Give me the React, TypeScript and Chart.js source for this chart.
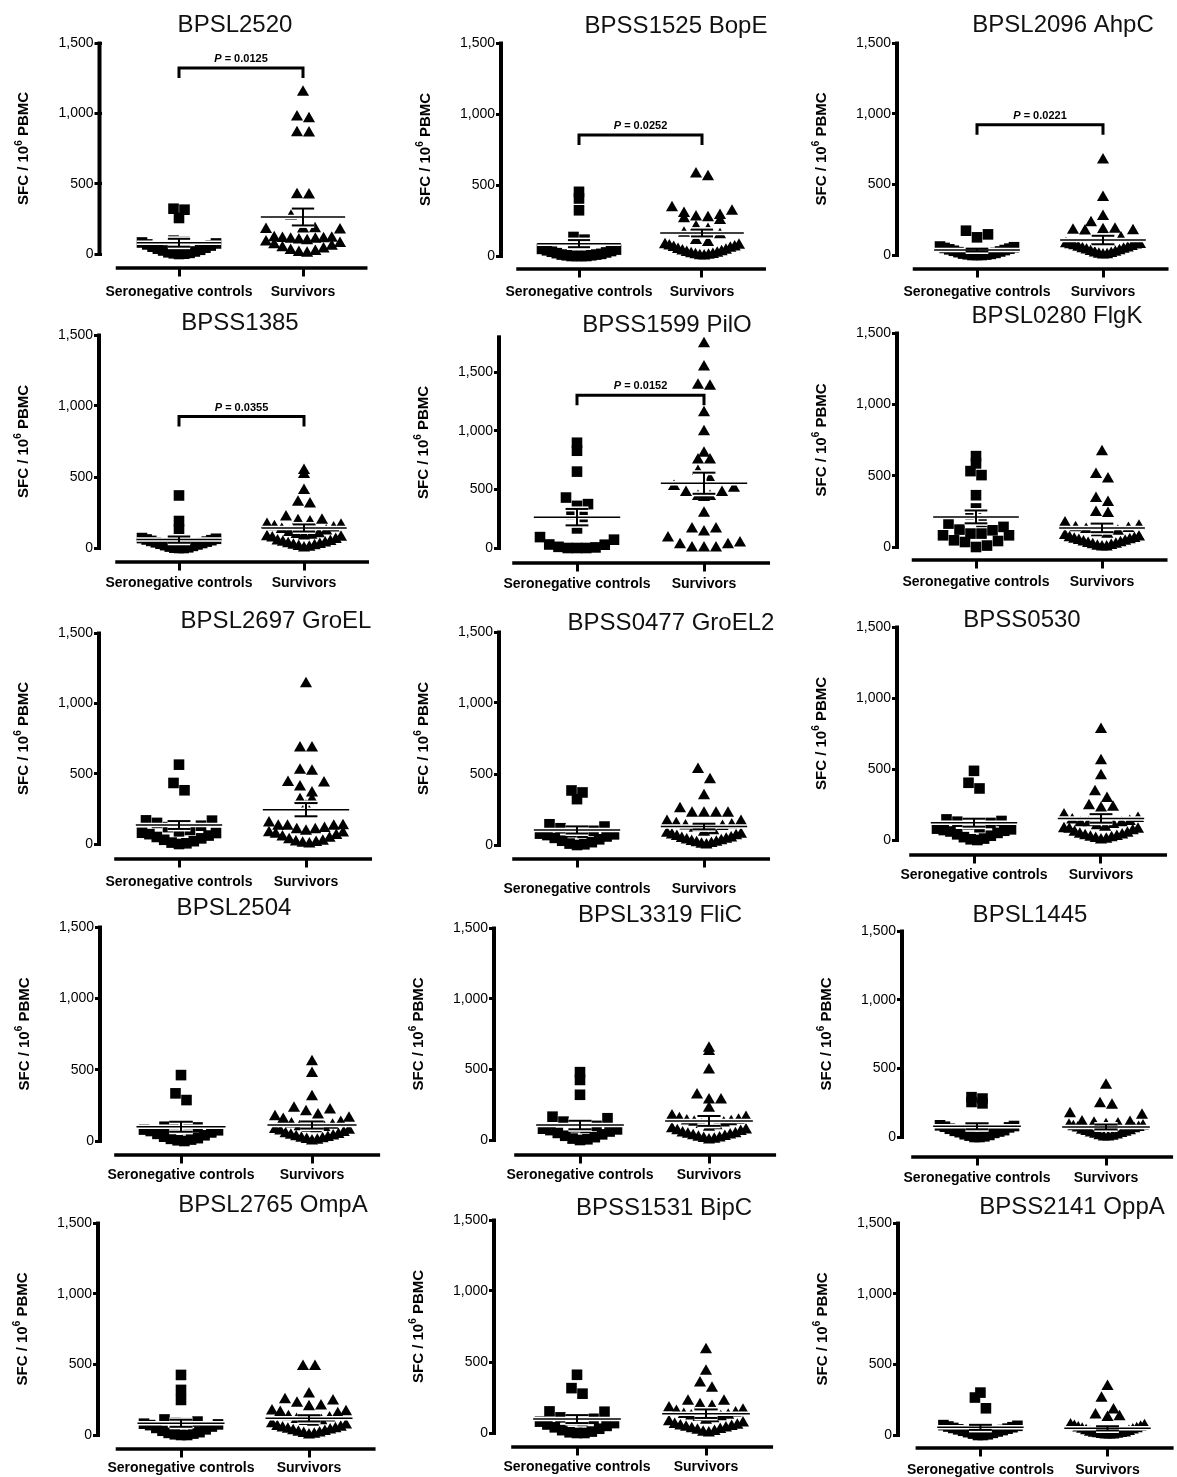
import React, { useEffect, useRef } from "react";
import { Chart, registerables } from "chart.js";

Chart.register(...registerables);

const FONT = "'Liberation Sans', Arial, Helvetica, sans-serif";

// ---------------- data ----------------
const categories = ["Seronegative controls", "Survivors"];
const yTickValues = [0, 500, 1000, 1500];
const antigenTitles = [
  "BPSL2520", "BPSS1525 BopE", "BPSL2096 AhpC",
  "BPSS1385", "BPSS1599 PilO", "BPSL0280 FlgK",
  "BPSL2697 GroEL", "BPSS0477 GroEL2", "BPSS0530",
  "BPSL2504", "BPSL3319 FliC", "BPSL1445",
  "BPSL2765 OmpA", "BPSS1531 BipC", "BPSS2141 OppA",
];
const yAxisMax = [1500, 1500, 1500, 1500, 1800, 1500, 1500, 1500, 1500, 1500, 1500, 1500, 1500, 1500, 1500];

const bpsl2520Controls = [0, 2, 5, 8, 12, 18, 25, 30, 38, 45, 52, 60, 68, 75, 82, 88, 95, 256, 315, 322];
const bpsl2520Survivors = [5, 10, 18, 25, 35, 45, 55, 65, 75, 85, 95, 105, 100, 105, 108, 110, 112, 115, 170, 175, 178, 180, 268, 420, 422, 860, 862, 962, 974, 1149];
const bpss1525Controls = [0, 0, 0, 0, 5, 5, 10, 10, 15, 20, 25, 30, 35, 40, 45, 50, 115, 134, 322, 405, 452];
const bpss1525Survivors = [0, 2, 5, 8, 10, 15, 20, 25, 30, 35, 40, 45, 55, 60, 64, 70, 75, 80, 95, 110, 150, 160, 186, 205, 250, 262, 270, 275, 285, 299, 316, 339, 558, 577];
const bpsl2096Controls = [0, 0, 0, 3, 5, 8, 10, 15, 20, 25, 30, 35, 40, 45, 50, 55, 60, 125, 146, 172];
const bpsl2096Survivors = [0, 2, 5, 10, 15, 20, 25, 30, 35, 40, 45, 50, 55, 60, 65, 70, 72, 75, 80, 90, 100, 120, 170, 172, 175, 178, 182, 229, 272, 406, 673];
const bpss1385Controls = [0, 0, 2, 5, 10, 15, 20, 25, 30, 35, 40, 45, 50, 55, 60, 65, 70, 129, 190, 370];
const bpss1385Survivors = [0, 5, 10, 15, 20, 25, 30, 35, 40, 45, 50, 60, 70, 75, 80, 85, 90, 95, 100, 110, 120, 130, 140, 150, 160, 166, 183, 192, 195, 218, 310, 323, 405, 518, 546];
const bpss1599Controls = [0, 0, 0, 5, 10, 28, 30, 71, 93, 167, 265, 290, 359, 374, 430, 651, 829, 897];
const bpss1599Survivors = [0, 0, 0, 28, 28, 42, 85, 136, 161, 161, 297, 430, 439, 439, 473, 473, 509, 524, 586, 651, 750, 750, 807, 991, 1152, 1378, 1387, 1543, 1741];
const bpsl0280Controls = [0, 10, 35, 42, 47, 82, 82, 94, 94, 117, 122, 141, 164, 176, 230, 270, 363, 504, 532, 586, 637];
const bpsl0280Survivors = [0, 0, 5, 10, 15, 20, 25, 30, 35, 40, 45, 50, 55, 60, 65, 70, 80, 90, 100, 110, 122, 129, 135, 145, 169, 234, 241, 312, 340, 476, 508, 668];
const bpsl2697Controls = [0, 5, 10, 20, 30, 40, 50, 60, 70, 78, 80, 90, 100, 120, 130, 150, 166, 168, 382, 434, 564];
const bpsl2697Survivors = [0, 5, 10, 15, 20, 30, 40, 50, 60, 70, 78, 80, 90, 102, 102, 110, 126, 126, 126, 130, 150, 268, 315, 315, 363, 405, 434, 438, 517, 524, 682, 682, 1140];
const bpss0477Controls = [0, 5, 10, 20, 30, 40, 50, 60, 70, 75, 80, 85, 90, 100, 118, 130, 146, 323, 370, 384];
const bpss0477Survivors = [0, 5, 10, 15, 20, 25, 30, 35, 40, 45, 50, 60, 65, 70, 75, 83, 90, 100, 118, 130, 134, 140, 150, 165, 165, 224, 224, 224, 224, 255, 347, 460, 531];
const bpss0530Controls = [0, 5, 10, 20, 30, 40, 50, 60, 65, 70, 75, 80, 90, 110, 120, 129, 134, 145, 363, 403, 487];
const bpss0530Survivors = [0, 5, 10, 15, 20, 25, 30, 35, 40, 47, 55, 65, 75, 75, 80, 90, 100, 110, 122, 122, 122, 130, 140, 152, 176, 223, 230, 241, 293, 340, 452, 558, 778];
const bpsl2504Controls = [0, 5, 10, 15, 20, 30, 40, 50, 60, 70, 75, 80, 85, 90, 95, 100, 287, 334, 462];
const bpsl2504Survivors = [0, 5, 10, 15, 20, 25, 30, 35, 40, 45, 50, 60, 70, 75, 80, 85, 90, 95, 100, 110, 120, 130, 150, 160, 170, 182, 205, 217, 229, 310, 474, 555];
const bpsl3319Controls = [0, 5, 10, 20, 30, 40, 50, 60, 70, 75, 80, 85, 90, 100, 130, 154, 165, 320, 425, 480];
const bpsl3319Survivors = [0, 5, 10, 15, 20, 25, 30, 35, 40, 45, 50, 60, 65, 70, 80, 90, 100, 110, 120, 125, 130, 135, 140, 150, 160, 170, 224, 283, 283, 319, 496, 626, 650];
const bpsl1445Controls = [0, 0, 5, 10, 15, 20, 30, 35, 40, 45, 50, 60, 70, 75, 80, 85, 245, 255, 280, 290];
const bpsl1445Survivors = [0, 0, 5, 10, 15, 20, 25, 30, 35, 40, 45, 50, 60, 65, 70, 75, 80, 85, 90, 95, 100, 105, 110, 158, 170, 231, 243, 377];
const bpsl2765Controls = [0, 0, 5, 10, 15, 20, 30, 40, 50, 60, 70, 75, 80, 85, 90, 95, 110, 248, 319, 425];
const bpsl2765Survivors = [0, 5, 10, 15, 20, 25, 30, 35, 40, 45, 50, 55, 60, 70, 80, 90, 95, 100, 110, 120, 130, 150, 160, 165, 170, 200, 205, 225, 240, 250, 290, 484, 484];
const bpss1531Controls = [0, 0, 5, 10, 20, 30, 40, 50, 60, 70, 80, 85, 90, 100, 110, 150, 152, 277, 316, 410];
const bpss1531Survivors = [0, 5, 10, 20, 25, 30, 35, 40, 45, 50, 55, 60, 70, 80, 90, 100, 110, 115, 120, 125, 130, 140, 152, 160, 176, 187, 199, 223, 223, 316, 352, 434, 586];
const bpss2141Controls = [0, 0, 5, 10, 15, 20, 25, 30, 35, 40, 45, 50, 55, 60, 65, 70, 189, 265, 300];
const bpss2141Survivors = [0, 0, 0, 3, 5, 8, 10, 12, 15, 20, 25, 30, 35, 40, 45, 50, 55, 60, 65, 70, 123, 130, 142, 177, 260, 343];

const controlsSeries = [
  bpsl2520Controls, bpss1525Controls, bpsl2096Controls,
  bpss1385Controls, bpss1599Controls, bpsl0280Controls,
  bpsl2697Controls, bpss0477Controls, bpss0530Controls,
  bpsl2504Controls, bpsl3319Controls, bpsl1445Controls,
  bpsl2765Controls, bpss1531Controls, bpss2141Controls,
];
const survivorsSeries = [
  bpsl2520Survivors, bpss1525Survivors, bpsl2096Survivors,
  bpss1385Survivors, bpss1599Survivors, bpsl0280Survivors,
  bpsl2697Survivors, bpss0477Survivors, bpss0530Survivors,
  bpsl2504Survivors, bpsl3319Survivors, bpsl1445Survivors,
  bpsl2765Survivors, bpss1531Survivors, bpss2141Survivors,
];

// mean and SEM: [controls, survivors]
const groupMeans = [
  [80, 263], [87, 162], [35, 106],
  [59, 141], [263, 552], [211, 134],
  [135, 244], [106, 130], [122, 152],
  [100, 112], [106, 135], [78, 73],
  [83, 118], [98, 136], [54, 47],
];
const groupSems = [
  [28, 60], [25, 24], [10, 30],
  [22, 25], [70, 90], [45, 30],
  [28, 47], [25, 20], [28, 30],
  [35, 25], [30, 35], [22, 18],
  [25, 22], [28, 30], [18, 15],
];

const pValues = ["0.0125", "0.0252", "0.0221", "0.0355", "0.0152", null, null, null, null, null, null, null, null, null, null];
const bracketLevels = [1322, 852, 921, 926, 1302, null, null, null, null, null, null, null, null, null, null];

// ---------------- layout (page pixels) ----------------
const COL_LEFT = [0, 392, 786];
const COL_WIDTH = [392, 394, 391];
const PANEL_GEOMETRY = [
  { axisX: 99.5, y0: 254, y1500: 43, xAxisY: 268, t1: 179, t2: 303, titleX: 235, titleY: 25, labelY: 292 },
  { axisX: 501, y0: 256, y1500: 43, xAxisY: 269, t1: 579, t2: 702, titleX: 676, titleY: 26, labelY: 292 },
  { axisX: 897, y0: 255, y1500: 43, xAxisY: 269, t1: 977, t2: 1103, titleX: 1063, titleY: 25, labelY: 292 },
  { axisX: 99, y0: 548, y1500: 335, xAxisY: 562, t1: 179, t2: 304, titleX: 240, titleY: 323, labelY: 583 },
  { axisX: 499, y0: 548, y1500: 372, xAxisY: 563, t1: 577, t2: 704, titleX: 667, titleY: 325, labelY: 584 },
  { axisX: 897, y0: 547, y1500: 333, xAxisY: 560, t1: 976, t2: 1102, titleX: 1057, titleY: 316, labelY: 582 },
  { axisX: 99, y0: 844, y1500: 633, xAxisY: 859, t1: 179, t2: 306, titleX: 276, titleY: 621, labelY: 882 },
  { axisX: 499, y0: 845, y1500: 632, xAxisY: 859, t1: 577, t2: 704, titleX: 671, titleY: 623, labelY: 889 },
  { axisX: 897, y0: 840, y1500: 627, xAxisY: 855, t1: 974, t2: 1101, titleX: 1022, titleY: 620, labelY: 875 },
  { axisX: 100, y0: 1141, y1500: 927, xAxisY: 1155, t1: 181, t2: 312, titleX: 234, titleY: 908, labelY: 1175 },
  { axisX: 494, y0: 1140, y1500: 928, xAxisY: 1155, t1: 580, t2: 709, titleX: 660, titleY: 915, labelY: 1175 },
  { axisX: 902, y0: 1137, y1500: 931, xAxisY: 1157, t1: 977, t2: 1106, titleX: 1030, titleY: 915, labelY: 1178 },
  { axisX: 98, y0: 1435, y1500: 1223, xAxisY: 1449, t1: 181, t2: 309, titleX: 273, titleY: 1205, labelY: 1468 },
  { axisX: 494, y0: 1433, y1500: 1220, xAxisY: 1447, t1: 577, t2: 706, titleX: 664, titleY: 1208, labelY: 1467 },
  { axisX: 898, y0: 1435, y1500: 1223, xAxisY: 1448, t1: 981, t2: 1109, titleX: 1072, titleY: 1207, labelY: 1470 },
];

// Prism-like scatter-dot layout: values grouped into horizontal bins,
// each bin spread side by side (lowest values at the centre), width capped.
function scatterOffsets(values: number[], pys: number[], pyZero: number, binPx: number, d: number, maxSpan: number): number[] {
  const out = new Array(values.length).fill(0);
  const bins = new Map<number, number[]>();
  values.forEach((_, i) => {
    const b = Math.floor((pyZero - pys[i]) / binPx + 1e-6);
    if (!bins.has(b)) bins.set(b, []);
    bins.get(b)!.push(i);
  });
  bins.forEach((idx) => {
    idx.sort((a, b) => values[a] - values[b]);
    const n = idx.length;
    if (n === 1) return;
    const s = Math.min(d, maxSpan / (n - 1));
    idx.forEach((pi, k) => {
      let slot: number;
      if (n % 2 === 1) {
        const m = Math.ceil(k / 2);
        slot = k === 0 ? 0 : (k % 2 === 1 ? m : -m);
      } else {
        const m = Math.floor(k / 2) + 0.5;
        slot = k % 2 === 0 ? m : -m;
      }
      out[pi] = slot * s;
    });
  });
  return out;
}

const decorPlugin = {
  id: "panelDecor",
  beforeDatasetsDraw(chart: any, _a: any, o: any) {
    const { ctx, chartArea } = chart;
    const x = chart.scales.x;
    const y = chart.scales.y;
    ctx.save();
    ctx.strokeStyle = "#000";
    ctx.lineCap = "butt";
    ctx.lineWidth = 4;
    ctx.beginPath();
    ctx.moveTo(chartArea.left - 2, y.getPixelForValue(o.yMax) - 1.5);
    ctx.lineTo(chartArea.left - 2, y.getPixelForValue(0) + 2);
    ctx.stroke();
    ctx.lineWidth = 3.5;
    ctx.beginPath();
    ctx.moveTo(x.getPixelForValue(0.49), chartArea.bottom + 1.5);
    ctx.lineTo(x.getPixelForValue(2.52), chartArea.bottom + 1.5);
    ctx.stroke();
    ctx.restore();
  },
  afterDatasetsDraw(chart: any, _a: any, o: any) {
    const { ctx } = chart;
    const x = chart.scales.x;
    const y = chart.scales.y;
    ctx.save();
    [0, 1].forEach((g) => {
      const c = g + 1;
      const m = o.means[g];
      const s = o.sems[g];
      const segs: [number, number, number, number, number][] = [
        [x.getPixelForValue(c - 0.34), y.getPixelForValue(m), x.getPixelForValue(c + 0.34), y.getPixelForValue(m), 1.5],
        [x.getPixelForValue(c), y.getPixelForValue(m - s), x.getPixelForValue(c), y.getPixelForValue(m + s), 2],
        [x.getPixelForValue(c - 0.09), y.getPixelForValue(m + s), x.getPixelForValue(c + 0.09), y.getPixelForValue(m + s), 2],
        [x.getPixelForValue(c - 0.09), y.getPixelForValue(m - s), x.getPixelForValue(c + 0.09), y.getPixelForValue(m - s), 2],
      ];
      segs.forEach(([x1, y1, x2, y2, w]) => {
        ctx.strokeStyle = "#fff";
        ctx.lineWidth = w + 3;
        ctx.beginPath();
        ctx.moveTo(x1, y1);
        ctx.lineTo(x2, y2);
        ctx.stroke();
      });
      segs.forEach(([x1, y1, x2, y2, w]) => {
        ctx.strokeStyle = "#000";
        ctx.lineWidth = w;
        ctx.beginPath();
        ctx.moveTo(x1, y1);
        ctx.lineTo(x2, y2);
        ctx.stroke();
      });
    });
    if (o.bracket != null && o.pValue) {
      const top = y.getPixelForValue(o.bracket);
      const xa = x.getPixelForValue(1);
      const xb = x.getPixelForValue(2);
      ctx.strokeStyle = "#000";
      ctx.lineWidth = 3;
      ctx.lineJoin = "miter";
      ctx.beginPath();
      ctx.moveTo(xa, top + 10);
      ctx.lineTo(xa, top);
      ctx.lineTo(xb, top);
      ctx.lineTo(xb, top + 10);
      ctx.stroke();
      const t1 = "P";
      const t2 = " = " + o.pValue;
      ctx.fillStyle = "#000";
      ctx.textBaseline = "alphabetic";
      ctx.font = `italic bold 11px ${FONT}`;
      const w1 = ctx.measureText(t1).width;
      ctx.font = `bold 11px ${FONT}`;
      const w2 = ctx.measureText(t2).width;
      const sx = x.getPixelForValue(1.5) - (w1 + w2) / 2;
      const by = top - 6;
      ctx.font = `italic bold 11px ${FONT}`;
      ctx.fillText(t1, sx, by);
      ctx.font = `bold 11px ${FONT}`;
      ctx.fillText(t2, sx + w1, by);
    }
    ctx.restore();
  },
  afterDraw(chart: any, _a: any, o: any) {
    const { ctx } = chart;
    const y = chart.scales.y;
    ctx.save();
    ctx.fillStyle = "#111";
    ctx.font = `24px ${FONT}`;
    ctx.textAlign = "center";
    ctx.textBaseline = "middle";
    ctx.fillText(o.title, o.titleX, o.titleY);
    const cy = (y.getPixelForValue(0) + y.getPixelForValue(o.yMax)) / 2;
    ctx.translate(o.yTitleX, cy);
    ctx.rotate(-Math.PI / 2);
    ctx.fillStyle = "#000";
    ctx.textAlign = "left";
    ctx.textBaseline = "alphabetic";
    const a = "SFC / 10";
    const s = "6";
    const b = " PBMC";
    ctx.font = `bold 15px ${FONT}`;
    const wa = ctx.measureText(a).width;
    const wb = ctx.measureText(b).width;
    ctx.font = `bold 10px ${FONT}`;
    const ws = ctx.measureText(s).width;
    let px = -(wa + ws + wb) / 2;
    ctx.font = `bold 15px ${FONT}`;
    ctx.fillText(a, px, 5.5);
    px += wa;
    ctx.font = `bold 10px ${FONT}`;
    ctx.fillText(s, px, -1);
    px += ws;
    ctx.font = `bold 15px ${FONT}`;
    ctx.fillText(b, px, 5.5);
    ctx.restore();
  },
};

function Panel({ index }: { index: number }) {
  const ref = useRef<HTMLCanvasElement | null>(null);
  const g = PANEL_GEOMETRY[index];
  const col = index % 3;
  const left = COL_LEFT[col];
  const width = COL_WIDTH[col];
  const top = g.titleY - 24;
  const height = g.labelY + 14 - top;

  useEffect(() => {
    const canvas = ref.current;
    if (!canvas) return;
    const ymax = yAxisMax[index];
    const ppu = (g.y0 - g.y1500) / 1500;
    const chartLeft = g.axisX + 2;
    const chartBottom = g.xAxisY - 1.5;
    const chartTop = g.y0 - ymax * ppu;
    const chartRight = g.t2 + 70;
    const yMin = -(chartBottom - g.y0) / ppu;
    const unit = g.t2 - g.t1;
    const xMin = 1 - (g.t1 - chartLeft) / unit;
    const xMax = xMin + (chartRight - chartLeft) / unit;
    const tickLenX = 10;
    const labelPad = g.labelY - (chartBottom + tickLenX) - 8.4;

    const controls = controlsSeries[index];
    const survivors = survivorsSeries[index];

    const chart = new Chart(canvas, {
      type: "scatter",
      data: {
        datasets: [
          {
            label: categories[0],
            data: controls.map((v) => ({ x: 1, y: v })),
            pointStyle: "rect",
            pointRadius: 7.5,
            pointHoverRadius: 7.5,
            pointBackgroundColor: "#000",
            pointBorderColor: "#000",
            pointBorderWidth: 0,
            clip: false,
          },
          {
            label: categories[1],
            data: survivors.map((v) => ({ x: 2, y: v })),
            pointStyle: "triangle",
            pointRadius: 7,
            pointHoverRadius: 7,
            pointBackgroundColor: "#000",
            pointBorderColor: "#000",
            pointBorderWidth: 0,
            clip: false,
          },
        ],
      },
      options: {
        responsive: false,
        animation: false,
        devicePixelRatio: 1,
        events: [],
        layout: {
          autoPadding: false,
          padding: { left: 0, top: chartTop - top, right: left + width - chartRight, bottom: 0 },
        },
        plugins: {
          legend: { display: false },
          tooltip: { enabled: false },
          panelDecor: {
            title: antigenTitles[index],
            titleX: g.titleX - left,
            titleY: g.titleY - top,
            yTitleX: g.axisX - 77 - left,
            yMax: ymax,
            means: groupMeans[index],
            sems: groupSems[index],
            pValue: pValues[index],
            bracket: bracketLevels[index],
          },
        } as any,
        scales: {
          x: {
            type: "linear",
            position: "bottom",
            min: xMin,
            max: xMax,
            afterBuildTicks: (s: any) => {
              s.ticks = [{ value: 1 }, { value: 2 }];
            },
            afterFit: (s: any) => {
              s.height = top + height - chartBottom;
            },
            ticks: {
              callback: (v: any) => (v === 1 ? categories[0] : v === 2 ? categories[1] : ""),
              font: { family: FONT, size: 14, weight: "bold" },
              color: "#000",
              padding: labelPad,
              maxRotation: 0,
              minRotation: 0,
              autoSkip: false,
            },
            grid: { display: true, drawOnChartArea: false, drawTicks: true, tickLength: tickLenX, lineWidth: 3, color: "#000" },
            border: { display: false },
          },
          y: {
            type: "linear",
            position: "left",
            min: yMin,
            max: ymax,
            afterBuildTicks: (s: any) => {
              s.ticks = yTickValues.map((v) => ({ value: v }));
            },
            afterFit: (s: any) => {
              s.width = chartLeft - left;
            },
            ticks: {
              callback: (v: any) => Number(v).toLocaleString("en-US"),
              font: { family: FONT, size: 14 },
              color: "#000",
              padding: 1,
            },
            grid: { display: true, drawOnChartArea: false, drawTicks: true, tickLength: 7, lineWidth: 3, color: "#000" },
            border: { display: false },
          },
        },
      } as any,
      plugins: [decorPlugin as any],
    });

    const xs: any = chart.scales.x;
    const ys: any = chart.scales.y;
    const pxPerUnit = xs.getPixelForValue(2) - xs.getPixelForValue(1);
    const pyZero = ys.getPixelForValue(0);
    [controls, survivors].forEach((vals, k) => {
      const pys = vals.map((v) => ys.getPixelForValue(v));
      const offs = scatterOffsets(vals, pys, pyZero + 1, 13, k === 0 ? 11 : 12, 74);
      (chart.data.datasets[k] as any).data = vals.map((v, j) => ({ x: k + 1 + offs[j] / pxPerUnit, y: v }));
    });
    chart.update("none");

    return () => chart.destroy();
  }, [index]);

  return (
    <canvas
      ref={ref}
      width={width}
      height={height}
      style={{ position: "absolute", left, top, width, height, display: "block" }}
    />
  );
}

export default function App() {
  return (
    <div
      style={{
        position: "absolute",
        left: 0,
        top: 0,
        width: 1177,
        height: 1477,
        background: "#fff",
        overflow: "hidden",
      }}
    >
      {antigenTitles.map((_, i) => (
        <Panel key={i} index={i} />
      ))}
    </div>
  );
}
